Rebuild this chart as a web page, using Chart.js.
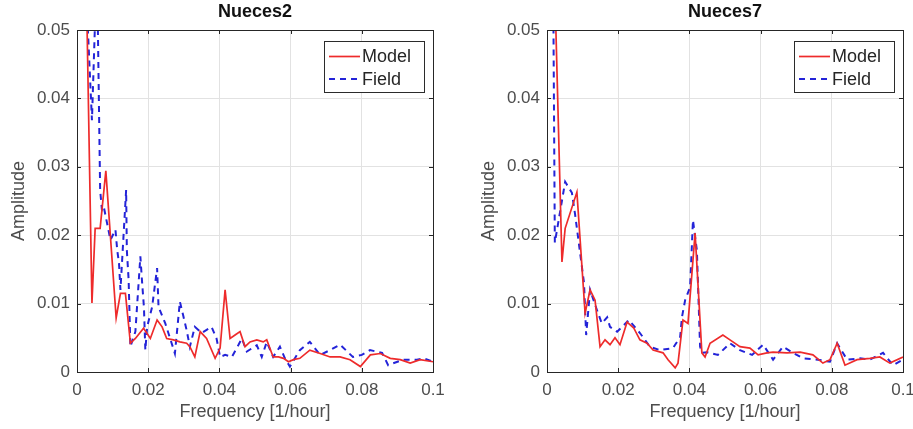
<!DOCTYPE html>
<html><head><meta charset="utf-8">
<script src="https://cdn.jsdelivr.net/npm/chart.js@4.4.1/dist/chart.umd.min.js"></script>
<style>
html,body{margin:0;padding:0;background:#fff;width:913px;height:429px;overflow:hidden}
.box{position:absolute;top:0;height:429px}
#b1{left:0;width:456px}
#b2{left:470px;width:443px}
</style></head><body>
<div class="box" id="b1"><canvas id="c1"></canvas></div>
<div class="box" id="b2"><canvas id="c2"></canvas></div>
<script>
const titles = ['Nueces2', 'Nueces7'];
const seriesNames = ['Model', 'Field'];
const xTickVals = [0, 0.02, 0.04, 0.06, 0.08, 0.1];
const xTickLabels = ['0', '0.02', '0.04', '0.06', '0.08', '0.1'];
const yTickVals = [0, 0.01, 0.02, 0.03, 0.04, 0.05];
const yTickLabels = ['0', '0.01', '0.02', '0.03', '0.04', '0.05'];

const n2ModelFreq = [0.0025,0.0042,0.0051,0.0065,0.0081,0.0110,0.0122,0.0136,0.0150,0.0164,0.0187,0.0206,0.0225,0.0239,0.0252,0.0271,0.0289,0.0308,0.0317,0.0331,0.0346,0.0364,0.0388,0.0402,0.0416,0.0430,0.0444,0.0458,0.0472,0.0486,0.0505,0.0523,0.0533,0.0551,0.0566,0.0580,0.0594,0.0608,0.0626,0.0654,0.0683,0.0711,0.0739,0.0767,0.0796,0.0824,0.0852,0.0880,0.0908,0.0936,0.0964,0.1000];
const n2ModelAmp  = [0.060,0.0101,0.0210,0.0210,0.0294,0.0079,0.0115,0.0115,0.0042,0.0049,0.0064,0.0049,0.0076,0.0066,0.0049,0.0047,0.0044,0.0042,0.0037,0.0022,0.0059,0.0049,0.0020,0.0035,0.0120,0.0049,0.0054,0.0059,0.0037,0.0044,0.0047,0.0044,0.0047,0.0022,0.0022,0.0020,0.0015,0.0018,0.0020,0.0032,0.0027,0.0022,0.0022,0.0018,0.0008,0.0025,0.0027,0.0020,0.0018,0.0013,0.0018,0.0015];

const n2FieldFreq = [0.0022,0.0042,0.0056,0.0065,0.0070,0.0075,0.0094,0.0108,0.0113,0.0118,0.0122,0.0138,0.0140,0.0145,0.0150,0.0164,0.0178,0.0183,0.0188,0.0192,0.0197,0.0211,0.0225,0.0229,0.0248,0.0261,0.0275,0.0289,0.0299,0.0308,0.0317,0.0331,0.0350,0.0378,0.0392,0.0402,0.0416,0.0435,0.0453,0.0463,0.0477,0.0505,0.0519,0.0533,0.0551,0.0570,0.0584,0.0598,0.0626,0.0654,0.0683,0.0711,0.0739,0.0775,0.0800,0.0823,0.0857,0.0874,0.0916,0.0955,0.0975,0.1000];
const n2FieldAmp  = [0.060,0.0368,0.060,0.0266,0.0237,0.0242,0.0193,0.0208,0.0178,0.0159,0.0120,0.0266,0.0178,0.0135,0.0037,0.0059,0.0169,0.0130,0.0095,0.0032,0.0066,0.0095,0.0152,0.0095,0.0071,0.0050,0.0027,0.0103,0.0081,0.0061,0.0037,0.0066,0.0057,0.0066,0.0049,0.0022,0.0025,0.0022,0.0039,0.0049,0.0030,0.0039,0.0022,0.0044,0.0022,0.0037,0.0020,0.0008,0.0032,0.0044,0.0025,0.0032,0.0040,0.0022,0.0025,0.0032,0.0028,0.0010,0.0018,0.0018,0.0020,0.0015];

const n7ModelFreq = [0.0020,0.0042,0.0051,0.0084,0.0107,0.0121,0.0135,0.0149,0.0163,0.0177,0.0191,0.0205,0.0225,0.0244,0.0261,0.0281,0.0298,0.0326,0.0340,0.0360,0.0368,0.0382,0.0396,0.0416,0.0435,0.0444,0.0458,0.0494,0.0514,0.0542,0.0570,0.0593,0.0618,0.0635,0.0674,0.0711,0.0747,0.0775,0.0795,0.0815,0.0837,0.0871,0.0907,0.0935,0.0963,0.1000];
const n7ModelAmp  = [0.060,0.0161,0.0210,0.0263,0.0086,0.0120,0.0105,0.0037,0.0047,0.0040,0.0050,0.0040,0.0073,0.0064,0.0047,0.0042,0.0032,0.0028,0.0018,0.0006,0.0013,0.0076,0.0071,0.0203,0.0028,0.0022,0.0042,0.0054,0.0047,0.0037,0.0035,0.0025,0.0028,0.0029,0.0028,0.0029,0.0025,0.0013,0.0018,0.0042,0.0010,0.0018,0.0020,0.0022,0.0013,0.0022];

const n7FieldFreq = [0.0017,0.0022,0.0051,0.0070,0.0079,0.0104,0.0110,0.0121,0.0140,0.0154,0.0169,0.0177,0.0197,0.0211,0.0230,0.0261,0.0289,0.0317,0.0354,0.0374,0.0379,0.0388,0.0402,0.0410,0.0421,0.0430,0.0435,0.0449,0.0480,0.0514,0.0542,0.0576,0.0607,0.0635,0.0663,0.0691,0.0719,0.0761,0.0795,0.0815,0.0843,0.0879,0.0907,0.0944,0.0972,0.1000];
const n7FieldAmp  = [0.060,0.0189,0.0278,0.0262,0.0230,0.0130,0.0054,0.0120,0.0091,0.0071,0.0080,0.0066,0.0059,0.0066,0.0076,0.0057,0.0037,0.0032,0.0035,0.0051,0.0080,0.0105,0.0124,0.0222,0.0178,0.0037,0.0028,0.0029,0.0025,0.0042,0.0032,0.0025,0.0040,0.0018,0.0037,0.0028,0.0020,0.0018,0.0015,0.0042,0.0018,0.0020,0.0018,0.0028,0.0010,0.0018];

const FONT = '"Liberation Sans", Arial, Helvetica, sans-serif';
Chart.defaults.font.family = FONT;

function pts(fx, fy) { return fx.map((x, i) => ({x: x, y: fy[i]})); }

const boxLegend = {
  id: 'boxLegend',
  afterDatasetsDraw(chart) {
    const {ctx, chartArea: a} = chart;
    const w = 100, h = 51;
    const x = a.right - 9 - w, y = a.top + 11;
    ctx.save();
    ctx.fillStyle = '#fff';
    ctx.fillRect(x, y, w, h);
    ctx.strokeStyle = '#2b2b2b';
    ctx.lineWidth = 1;
    ctx.strokeRect(x + 0.5, y + 0.5, w, h);
    chart.data.datasets.forEach((ds, i) => {
      const ly = y + 15.5 + i * 22.5;
      ctx.beginPath();
      ctx.setLineDash(ds.borderDash || []);
      ctx.strokeStyle = ds.borderColor;
      ctx.lineWidth = ds.borderWidth;
      ctx.moveTo(x + 5, ly);
      ctx.lineTo(x + 36, ly);
      ctx.stroke();
      ctx.setLineDash([]);
      ctx.fillStyle = '#262626';
      ctx.font = '18px ' + FONT;
      ctx.textBaseline = 'middle';
      ctx.textAlign = 'left';
      ctx.fillText(ds.label, x + 38, ly + 1);
    });
    ctx.restore();
  }
};

const frame = {
  id: 'frame',
  afterDraw(chart) {
    const {ctx, chartArea: a, scales} = chart;
    ctx.save();
    ctx.strokeStyle = '#262626';
    ctx.lineWidth = 1;
    const tl = 4;
    ctx.beginPath();
    scales.x.ticks.forEach(t => {
      const px = Math.round(scales.x.getPixelForValue(t.value)) + 0.5;
      ctx.moveTo(px, a.bottom); ctx.lineTo(px, a.bottom - tl);
      ctx.moveTo(px, a.top); ctx.lineTo(px, a.top + tl);
    });
    scales.y.ticks.forEach(t => {
      const py = Math.round(scales.y.getPixelForValue(t.value)) + 0.5;
      ctx.moveTo(a.left, py); ctx.lineTo(a.left + tl, py);
      ctx.moveTo(a.right, py); ctx.lineTo(a.right - tl, py);
    });
    ctx.stroke();
    ctx.strokeRect(Math.round(a.left) + 0.5, Math.round(a.top) + 0.5, Math.round(a.right - a.left), Math.round(a.bottom - a.top));
    ctx.restore();
  }
};

function makeChart(id, title, mf, ma, ff, fa, padRight) {
  return new Chart(document.getElementById(id), {
    type: 'line',
    data: {
      datasets: [
        {label: seriesNames[0], data: pts(mf, ma), borderColor: '#ee2b2b', borderWidth: 1.7, pointRadius: 0, tension: 0, fill: false},
        {label: seriesNames[1], data: pts(ff, fa), borderColor: '#2323d8', borderWidth: 2, borderDash: [6, 5], pointRadius: 0, tension: 0, fill: false}
      ]
    },
    options: {
      responsive: true,
      maintainAspectRatio: false,
      animation: false,
      layout: {padding: {left: 0, right: padRight, top: 0, bottom: 0}},
      plugins: {
        legend: {display: false},
        tooltip: {enabled: false},
        title: {display: true, text: title, fullSize: false, color: '#111', font: {size: 18, weight: 'bold'}, padding: {top: 1, bottom: 7.4}}
      },
      scales: {
        x: {
          type: 'linear', min: 0, max: 0.1,
          afterBuildTicks: s => { s.ticks = xTickVals.map(v => ({value: v})); },
          afterFit: s => { s.height = 57; s.paddingLeft = 0; s.paddingRight = 0; },
          ticks: {padding: 8, color: '#4d4d4d', font: {size: 17}, maxRotation: 0,
                  callback: (v, i) => xTickLabels[i]},
          grid: {color: '#e2e2e2', drawTicks: false},
          border: {display: false},
          title: {display: true, text: 'Frequency [1/hour]', color: '#4d4d4d', font: {size: 18}, padding: {top: 0, bottom: 6}}
        },
        y: {
          type: 'linear', min: 0, max: 0.05,
          afterBuildTicks: s => { s.ticks = yTickVals.map(v => ({value: v})); },
          afterFit: s => { s.width = 77; s.paddingTop = 0; s.paddingBottom = 0; },
          ticks: {padding: 7, color: '#4d4d4d', font: {size: 17},
                  callback: (v, i) => yTickLabels[i]},
          grid: {color: '#e2e2e2', drawTicks: false},
          border: {display: false},
          title: {display: true, text: 'Amplitude', color: '#4d4d4d', font: {size: 18}, padding: {top: 8, bottom: 0}}
        }
      }
    },
    plugins: [boxLegend, frame]
  });
}

makeChart('c1', titles[0], n2ModelFreq, n2ModelAmp, n2FieldFreq, n2FieldAmp, 23);
makeChart('c2', titles[1], n7ModelFreq, n7ModelAmp, n7FieldFreq, n7FieldAmp, 10);
</script>
</body></html>
